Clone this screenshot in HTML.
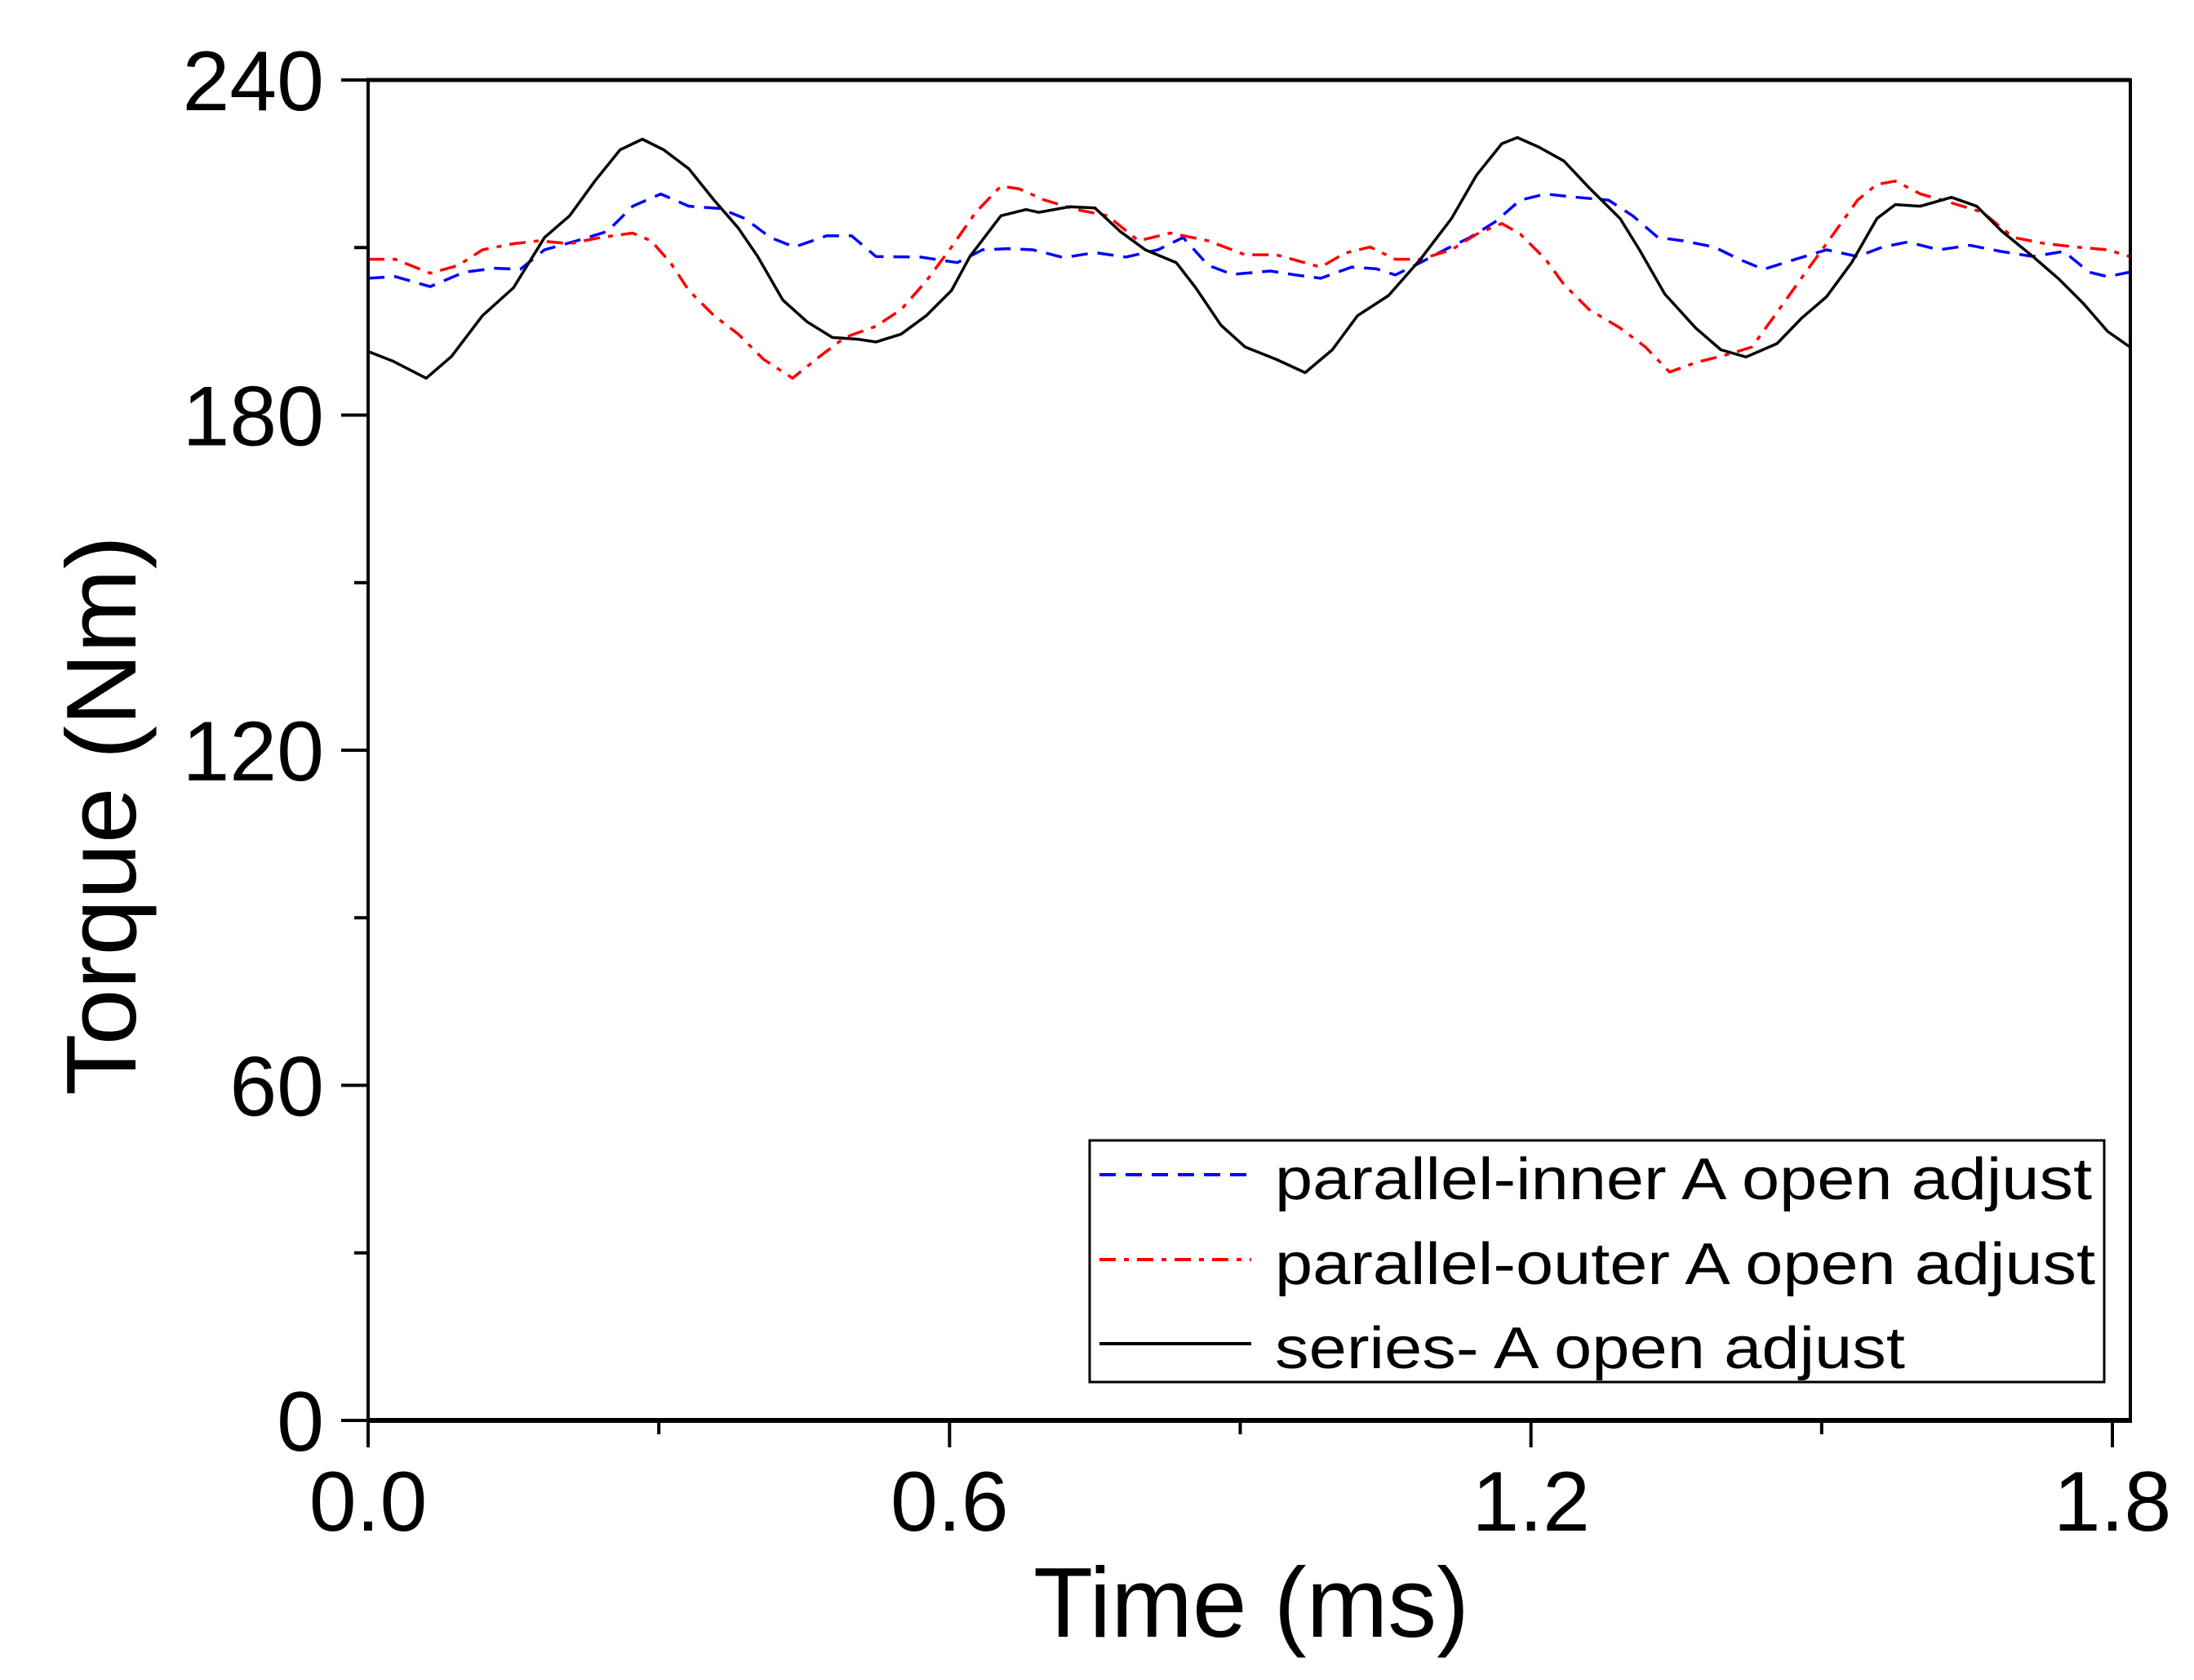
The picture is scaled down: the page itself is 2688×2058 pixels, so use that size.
<!DOCTYPE html>
<html><head><meta charset="utf-8">
<style>
html,body{margin:0;padding:0;background:#fff;}
svg{display:block;font-family:"Liberation Sans",Arial,sans-serif;}
</style></head>
<body>
<svg id="chart" width="2688" height="2058" viewBox="0 0 2688 2058" xmlns="http://www.w3.org/2000/svg">
<rect x="0" y="0" width="2688" height="2058" fill="#fff"/>
<g id="series"></g>
<g id="axes"></g>
</svg>
<script>
const xTicks = [0.0, 0.6, 1.2, 1.8];
const xTickLabels = ["0.0", "0.6", "1.2", "1.8"];
const xMinorTicks = [0.3, 0.9, 1.5];
const yTicks = [0, 60, 120, 180, 240];
const yTickLabels = ["0", "60", "120", "180", "240"];
const yMinorTicks = [30, 90, 150, 210];

const blueT = [0,.028,.064,.099,.131,.157,.182,.215,.247,.273,.302,.331,.363,.389,.415,.44,.473,.499,.524,.57,.608,.634,.66,.686,.718,.75,.782,.815,.841,.867,.892,.931,.957,.983,1.015,1.04,1.06,1.086,1.111,1.137,1.163,1.189,1.215,1.241,1.28,1.305,1.331,1.357,1.389,1.415,1.44,1.473,1.505,1.537,1.563,1.589,1.621,1.653,1.685,1.718,1.75,1.776,1.795,1.818];
const blueV = [204.5,204.8,203,205.6,206.3,206.1,209.6,211.2,212.9,217.4,219.6,217.4,217,215.2,211.8,210.1,212.1,212.1,208.4,208.3,207.3,209.6,209.8,209.6,208.2,209.1,208.3,209.6,211.8,206.8,205.2,205.8,205.1,204.5,206.5,206.2,205.1,207.3,209.6,211.8,214.6,218.5,219.6,219.1,218.5,215.7,211.8,211.2,210.1,207.9,206.1,207.9,209.6,208.4,210.1,211,209.6,210.4,209.3,208.4,209.3,205.6,204.8,205.6];

const redT = [0,.028,.064,.093,.118,.15,.176,.208,.24,.273,.292,.312,.331,.357,.382,.408,.438,.466,.492,.524,.55,.576,.602,.627,.653,.672,.698,.731,.763,.795,.828,.867,.905,.937,.983,1.008,1.034,1.06,1.086,1.118,1.144,1.17,1.189,1.215,1.234,1.26,1.292,1.318,1.343,1.37,1.408,1.428,1.454,1.479,1.505,1.537,1.557,1.576,1.602,1.634,1.666,1.698,1.731,1.763,1.795,1.818];
const redV = [207.9,207.9,205.4,206.8,209.6,210.7,211.2,210.7,211.8,212.6,211.2,207.3,202.3,197.8,194.5,190,186.6,190.5,193.9,195.9,198.9,204,210.1,216.3,221,220.5,218.5,216.8,215.7,211.2,212.6,211.2,208.7,208.7,206.5,209,210.1,207.9,207.9,209.6,212.4,214.3,212.4,207.9,203.4,198.9,195.6,192.2,187.7,189.4,191.1,192.2,198.4,204.5,210.7,218.5,221.3,221.9,219.6,218,216.3,211.8,210.7,210.1,209.6,208.4];

const blackT = [0,.025,.06,.086,.118,.15,.182,.208,.234,.26,.283,.305,.331,.357,.382,.402,.428,.453,.479,.505,.524,.55,.576,.602,.621,.653,.679,.692,.724,.75,.776,.802,.834,.854,.88,.905,.937,.967,.995,1.021,1.053,1.086,1.118,1.144,1.17,1.186,1.208,1.234,1.26,1.292,1.312,1.338,1.37,1.396,1.422,1.454,1.479,1.505,1.531,1.557,1.576,1.602,1.634,1.66,1.686,1.718,1.744,1.77,1.795,1.818];
const blackV = [191.4,189.7,186.6,190.5,197.8,202.8,211.8,215.7,221.9,227.5,229.4,227.5,224.1,218.5,213.5,208.4,200.6,196.7,193.9,193.6,193.1,194.5,197.8,202.3,208.4,215.7,216.8,216.3,217.3,217.1,212.9,209.6,207.3,202.8,196.1,192.2,190,187.6,191.7,197.8,201.4,207.9,215.2,223,228.6,229.7,228,225.5,220.7,215.2,209.6,201.7,195.6,191.7,190.4,192.8,197.3,201.2,207.3,215.2,217.7,217.4,219,217.4,212.9,208.4,204.5,200,195,192.2];

const legendLabels = ["parallel-inner A open adjust", "parallel-outer A open adjust", "series- A open adjust"];

const NS = "http://www.w3.org/2000/svg";
const PL = 451, PR = 2610, PT = 98, PB = 1740;
const X0 = 0, X1 = 1.8 * (PR - PL) / (2588 - PL);
const Y0 = 0, Y1 = 240;
function xs(t){ return PL + (t - X0) / (X1 - X0) * (PR - PL); }
function ys(v){ return PB - (v - Y0) / (Y1 - Y0) * (PB - PT); }
function mk(tag, attrs, parent){
  const e = document.createElementNS(NS, tag);
  for (const k in attrs) e.setAttribute(k, attrs[k]);
  parent.appendChild(e);
  return e;
}
const gS = document.getElementById('series');
const gA = document.getElementById('axes');

function drawSeries(T, V, color, dash, name){
  const d = T.map((t,i)=>(i?'L':'M')+xs(t).toFixed(1)+','+ys(V[i]).toFixed(1)).join(' ');
  const p = mk('path', {d:d, fill:'none', stroke:color, 'stroke-width':3.5, 'stroke-dasharray':dash, 'stroke-linejoin':'round'}, gS);
  
  
}
drawSeries(blueT, blueV, '#0000ff', '20 12', 'parallel-inner-line');
drawSeries(redT, redV, '#ff0000', '20 10 6 10', 'parallel-outer-line');
drawSeries(blackT, blackV, '#000000', 'none', 'series-line');

// frame
const fr = mk('rect', {x:PL, y:PT, width:PR-PL, height:PB-PT, fill:'none', stroke:'#000', 'stroke-width':4}, gA);


mk('line', {x1:PL-2, y1:PT, x2:PR, y2:PT, stroke:'#000', 'stroke-width':5}, gA);
mk('line', {x1:PL-2, y1:PB, x2:PR+2, y2:PB, stroke:'#000', 'stroke-width':6}, gA);

yTicks.forEach((v,i)=>{
  mk('line', {x1:PL-33, y1:ys(v), x2:PL, y2:ys(v), stroke:'#000', 'stroke-width':4}, gA);
  const t = mk('text', {x:397, y:ys(v)+37, 'font-size':104, 'text-anchor':'end'}, gA);
  t.textContent = yTickLabels[i];
  
  
});
yMinorTicks.forEach(v=>{
  mk('line', {x1:PL-17, y1:ys(v), x2:PL, y2:ys(v), stroke:'#000', 'stroke-width':4}, gA);
});
xTicks.forEach((v,i)=>{
  mk('line', {x1:xs(v), y1:PB, x2:xs(v), y2:PB+33, stroke:'#000', 'stroke-width':4}, gA);
  const t = mk('text', {x:xs(v), y:1875, 'font-size':104, 'text-anchor':'middle'}, gA);
  t.textContent = xTickLabels[i];
  
  
});
xMinorTicks.forEach(v=>{
  mk('line', {x1:xs(v), y1:PB, x2:xs(v), y2:PB+17, stroke:'#000', 'stroke-width':4}, gA);
});

const xt = mk('text', {x:1533, y:2005, 'font-size':122, 'text-anchor':'middle', textLength:534, lengthAdjust:'spacingAndGlyphs'}, gA);
xt.textContent = 'Time (ms)';


const yt = mk('text', {x:0, y:0, 'font-size':122, 'text-anchor':'middle', transform:'translate(166,999) rotate(-90)', textLength:686, lengthAdjust:'spacingAndGlyphs'}, gA);
yt.textContent = 'Torque (Nm)';



// legend
const lg = mk('g', {}, gA);


mk('rect', {x:1335, y:1397, width:1243, height:296, fill:'#fff', stroke:'#000', 'stroke-width':3}, lg);
const lColors = ['#0000ff', '#ff0000', '#000000'];
const lDash = ['20 12', '20 10 6 10', 'none'];
const lLineY = [1439, 1543, 1646];
const lTextY = [1469, 1573, 1676];
const lWidths = [1001, 1005, 772];
const lNames = ['legend-entry-parallel-inner', 'legend-entry-parallel-outer', 'legend-entry-series'];
legendLabels.forEach((s,i)=>{
  mk('line', {x1:1347, y1:lLineY[i], x2:1533, y2:lLineY[i], stroke:lColors[i], 'stroke-width':4, 'stroke-dasharray':lDash[i]}, lg);
  const t = mk('text', {x:1562, y:lTextY[i], 'font-size':72, textLength:lWidths[i], lengthAdjust:'spacingAndGlyphs'}, lg);
  t.textContent = s;
  
  
});
</script>
</body></html>
